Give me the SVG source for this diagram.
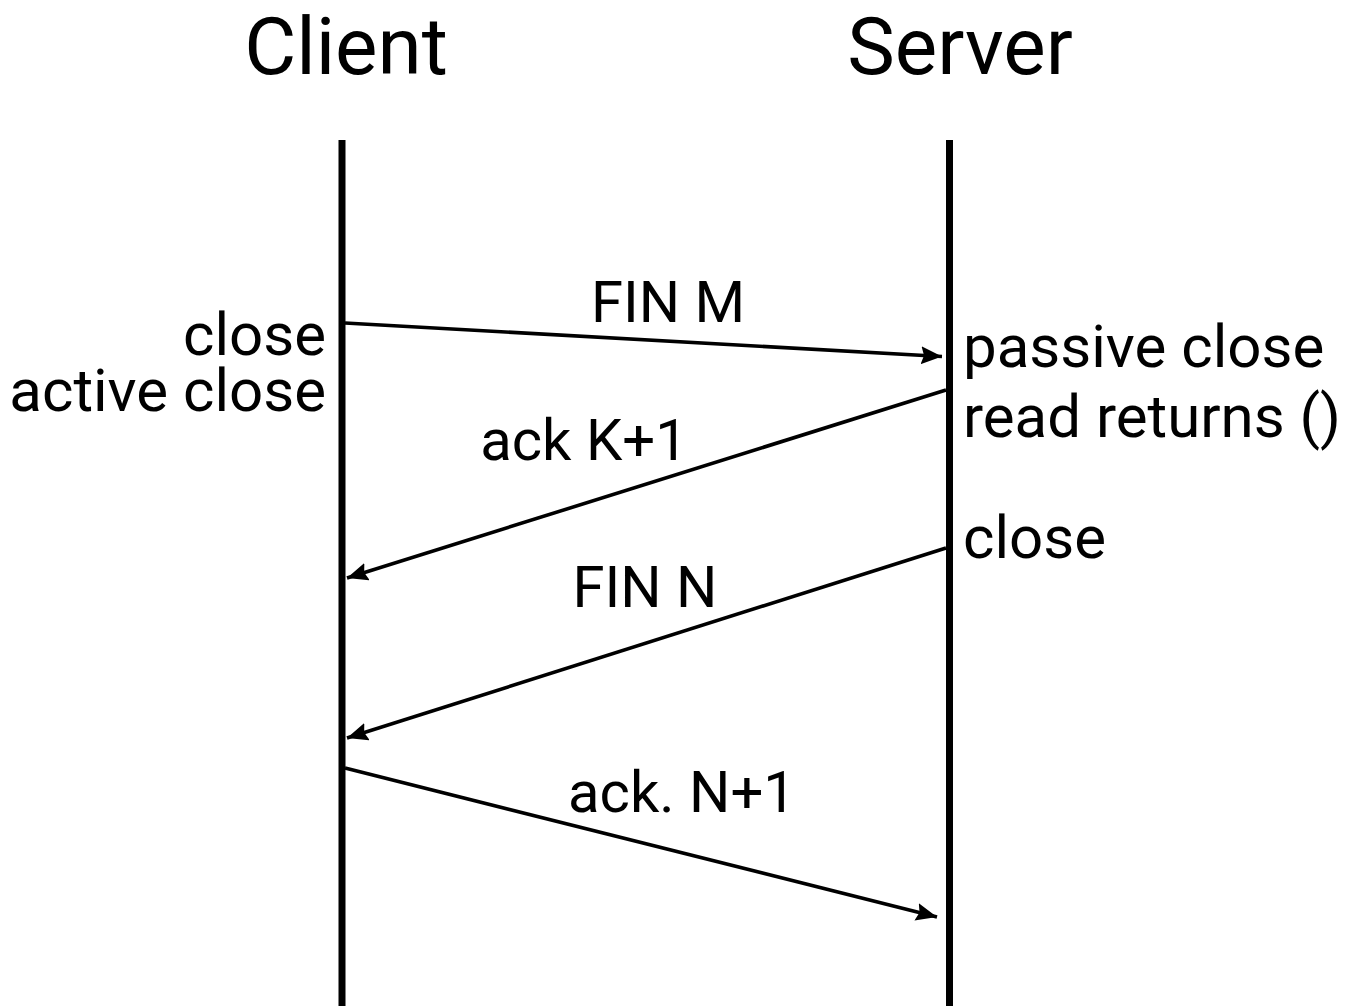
<svg xmlns="http://www.w3.org/2000/svg" width="1353" height="1006" viewBox="0 0 1353 1006">
  <style>
    text { font-family: Roboto, "Liberation Sans", sans-serif; fill: #000; }
    .head { font-size: 80px; text-anchor: middle; }
    .lbl { font-size: 58px; }
    .side { font-size: 60px; }
    .mid { text-anchor: middle; }
    .end { text-anchor: end; }
    .life { stroke: #000; stroke-width: 7; }
    .msg { stroke: #000; stroke-width: 3.6; fill: none; marker-end: url(#arrow); }
  </style>
  <defs>
    <marker id="arrow" markerUnits="userSpaceOnUse" markerWidth="24" markerHeight="20" refX="21" refY="9" orient="auto">
      <path d="M0,0 L21,9 L0,18 L3,9 Z" fill="#000"/>
    </marker>
  </defs>
  <rect width="1353" height="1006" fill="#fff"/>

  <g id="client">
    <text class="head" x="346" y="74">Client</text>
    <line class="life" x1="342" y1="140" x2="342" y2="1006"/>
    <text class="side end" x="326" y="355">close</text>
    <text class="side end" x="326" y="411">active close</text>
  </g>

  <g id="server">
    <text class="head" x="960" y="74">Server</text>
    <line class="life" x1="949.5" y1="140" x2="949.5" y2="1006"/>
    <text class="side" x="963" y="367">passive close</text>
    <text class="side" x="963" y="437">read returns ()</text>
    <text class="side" x="963" y="558">close</text>
  </g>

  <g id="connectors">
    <line class="msg" x1="345" y1="323" x2="942" y2="356.5"/>
    <line class="msg" x1="946" y1="390" x2="347" y2="578"/>
    <line class="msg" x1="946" y1="548" x2="347" y2="738"/>
    <line class="msg" x1="345" y1="768" x2="937" y2="917"/>
  </g>

  <g id="labels">
    <text class="lbl mid" x="668" y="322">FIN M</text>
    <text class="lbl mid" x="584" y="460">ack K+1</text>
    <text class="lbl mid" x="645" y="607">FIN N</text>
    <text class="lbl mid" x="682" y="812">ack. N+1</text>
  </g>
</svg>
